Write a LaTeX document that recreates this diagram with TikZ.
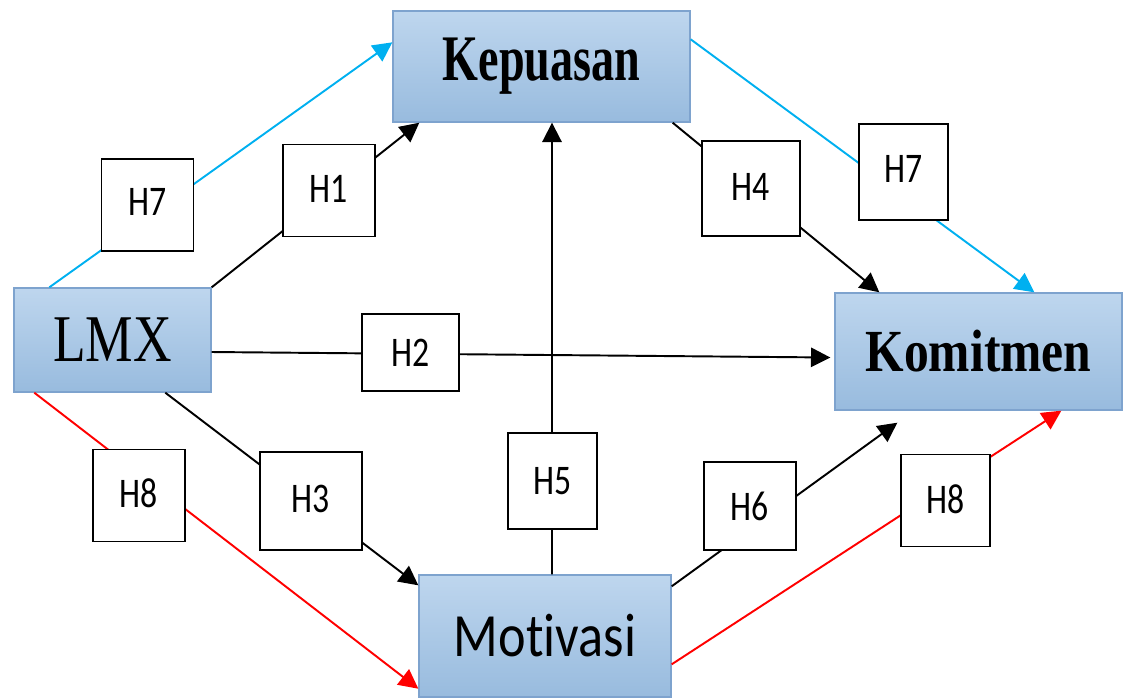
\documentclass[tikz,border=0pt]{standalone}
\usepackage{fontspec}
\setmainfont{Liberation Serif}
\newfontfamily\calibfont[Ligatures=NoCommon]{Carlito}
\usepackage{graphicx}
\usetikzlibrary{positioning,calc,arrows.meta}
\definecolor{boxtop}{RGB}{190,214,238}
\definecolor{boxbottom}{RGB}{152,187,222}
\definecolor{boxline}{RGB}{126,163,206}
\definecolor{skyline}{RGB}{0,176,240}
\newcommand{\squeeze}[2]{\scalebox{#1}[1]{#2}}

\begin{document}
\begin{tikzpicture}[
      x=0.02cm, y=-0.02cm,
      varbox/.style={draw=boxline,line width=0.8pt,top color=boxtop,bottom color=boxbottom,inner sep=0pt},
      hbox/.style={draw,fill=white,line width=1.1pt,minimum width=1.84cm,minimum height=1.84cm,inner sep=0pt,font=\calibfont\fontsize{24}{26}\selectfont},
      link/.style={line width=1.1pt,-{Triangle[length=11pt,width=11pt]}}
    ]
    \useasboundingbox (0,0) rectangle (1123,698);
    % variables
    \node[varbox, minimum width=5.94cm, minimum height=2.22cm] (kep) at (541.5,66.5)
        {\fontsize{37}{40}\selectfont\bfseries\squeeze{0.71}{Kepuasan}};
    \node[varbox, minimum width=3.94cm, minimum height=2.08cm] (lmx) at (112.5,340)
        {\fontsize{38}{40}\selectfont\squeeze{0.8}{LMX}};
    \node[varbox, minimum width=5.74cm, minimum height=2.34cm] (kom) at (978.5,351.5)
        {\fontsize{34}{38}\selectfont\bfseries\squeeze{0.83}{Komitmen}};
    \node[varbox, minimum width=5.04cm, minimum height=2.44cm] (mot) at (545,636)
        {\calibfont\fontsize{35}{38}\selectfont\squeeze{0.85}{Motivasi}};
    % paths
    \draw[link, skyline] ($(lmx.north west)+(36,0)$) -- ($(kep.north west)+(0,32)$);
    \draw[link] (lmx.north east) -- ($(kep.south west)+(27,0)$);
    \draw[link, skyline] ($(kep.north east)+(0,29)$) -- ($(kom.north west)+(200,0)$);
    \draw[link] ($(kep.south east)+(-18,0)$) -- ($(kom.north west)+(45,0)$);
    \draw[link] ($(lmx.east)+(0,12)$) -- ($(kom.west)+(-4,6)$);
    \draw[link] ($(lmx.south west)+(152,0)$) -- ($(mot.north west)+(0,11)$);
    \draw[link, red] ($(lmx.south west)+(21,0)$) -- ($(mot.south west)+(0,-9)$);
    \draw[link] ($(mot.north)+(7,0)$) -- ($(kep.south)+(10.5,0)$);
    \draw[link] ($(mot.north east)+(0,12)$) -- ($(kom.south west)+(63,12)$);
    \draw[link, red] ($(mot.north east)+(0,90)$) -- ($(kom.south west)+(227,0)$);
    % hypotheses
    \node[hbox] (h7a) at (147.5,205) {\raisebox{3pt}{\squeeze{0.8}{H7}}};
    \node[hbox] (h1) at (329,190.5) {\raisebox{2pt}{\squeeze{0.8}{H1}}};
    \node[hbox, minimum width=1.94cm, minimum height=1.54cm] (h2) at (410.5,352.5) {\squeeze{0.8}{H2}};
    \node[hbox, minimum width=1.96cm, minimum height=1.9cm] (h4) at (751,188.5) {\raisebox{2pt}{\squeeze{0.8}{H4}}};
    \node[hbox, minimum width=1.78cm, minimum height=1.92cm] (h7b) at (903.5,172) {\raisebox{3pt}{\squeeze{0.8}{H7}}};
    \node[hbox, minimum width=1.78cm, minimum height=1.92cm] (h5) at (552.5,481) {\squeeze{0.8}{H5}};
    \node[hbox, minimum width=2.04cm, minimum height=1.96cm] (h3) at (311,501) {\raisebox{2pt}{\squeeze{0.8}{H3}}};
    \node[hbox] (h8a) at (139,495.5) {\raisebox{3pt}{\squeeze{0.8}{H8}}};
    \node[hbox, minimum height=1.76cm] (h6) at (750,506) {\squeeze{0.8}{H6}};
    \node[hbox, minimum width=1.78cm] (h8b) at (945.5,500.5) {\raisebox{2pt}{\squeeze{0.8}{H8}}};
\end{tikzpicture}
\end{document}
